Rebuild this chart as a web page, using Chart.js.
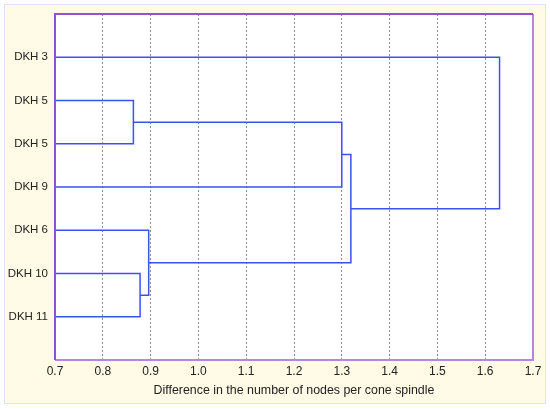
<!DOCTYPE html>
<html>
<head>
<meta charset="utf-8">
<script src="https://cdn.jsdelivr.net/npm/chart.js@4/dist/chart.umd.min.js"></script>
<style>
  body { margin: 0; background: #fff; }
  #wrap { width: 550px; height: 409px; }
</style>
</head>
<body>
<div id="wrap"><canvas id="dendro" width="550" height="409"></canvas></div>
<script>
// leaves, top to bottom
const leaves = ['DKH 3', 'DKH 5', 'DKH 5', 'DKH 9', 'DKH 6', 'DKH 10', 'DKH 11'];
// linkage: node ids 0..6 are leaves, 7.. are the merged clusters in order
const mergeA = [1, 7, 5, 4, 8, 0];
const mergeB = [2, 3, 6, 9, 10, 11];
const mergeHeight = [0.864, 1.300, 0.878, 0.896, 1.319, 1.630];
const xTicks = [0.7, 0.8, 0.9, 1.0, 1.1, 1.2, 1.3, 1.4, 1.5, 1.6, 1.7];

const xMin = 0.7, xMax = 1.7;

// position of every node (x = height, y = row)
let nodeX = leaves.map(() => xMin);
let nodeY = leaves.map((l, i) => i + 1);
let datasets = [];
for (let i = 0; i < mergeHeight.length; i++) {
    let a = mergeA[i], b = mergeB[i], h = mergeHeight[i];
    datasets.push({
        data: [
            {x: nodeX[a], y: nodeY[a]},
            {x: h, y: nodeY[a]},
            {x: h, y: nodeY[b]},
            {x: nodeX[b], y: nodeY[b]}
        ],
        showLine: true,
        borderColor: '#3e50f0',
        borderWidth: 1.5,
        pointRadius: 0,
        fill: false
    });
    nodeX.push(h);
    nodeY.push((nodeY[a] + nodeY[b]) / 2);
}

// cream frame + plot border
const frame = {
    id: 'frame',
    beforeDraw(chart) {
        const c = chart.ctx, a = chart.chartArea;
        c.save();
        c.fillStyle = '#fffbe6';
        c.fillRect(5, 5, 540, 398);
        c.strokeStyle = '#e2e3ef';
        c.lineWidth = 1;
        c.strokeRect(4.5, 4.5, 541, 399);
        c.fillStyle = '#ffffff';
        c.fillRect(a.left, a.top, a.right - a.left, a.bottom - a.top);
        c.restore();
    },
    afterDraw(chart) {
        const c = chart.ctx, a = chart.chartArea;
        c.save();
        c.lineWidth = 2;
        c.strokeStyle = '#b585e0';
        c.beginPath();
        c.moveTo(a.left, a.bottom);
        c.lineTo(a.right, a.bottom);
        c.lineTo(a.right, a.top);
        c.stroke();
        c.strokeStyle = '#9050d8';
        c.beginPath();
        c.moveTo(a.left, a.bottom);
        c.lineTo(a.left, a.top);
        c.lineTo(a.right, a.top);
        c.stroke();
        c.restore();
    }
};

new Chart(document.getElementById('dendro').getContext('2d'), {
    type: 'scatter',
    data: { datasets: datasets },
    options: {
        responsive: false,
        animation: false,
        layout: { padding: { left: 5, top: 14, right: 17, bottom: 0 } },
        plugins: {
            legend: { display: false },
            tooltip: { enabled: false }
        },
        scales: {
            x: {
                type: 'linear',
                min: xMin,
                max: xMax,
                afterBuildTicks: function(scale) {
                    scale.ticks = xTicks.map(v => ({ value: v }));
                },
                afterFit: function(scale) { scale.height = 49; },
                border: { display: false, dash: [2, 2] },
                grid: {
                    drawTicks: false,
                    color: function(ctx) {
                        let v = ctx.tick ? ctx.tick.value : 0;
                        return (v <= xMin + 0.001 || v >= xMax - 0.001) ? 'rgba(0,0,0,0)' : '#8c8c8c';
                    },
                    lineWidth: 1
                },
                ticks: {
                    padding: 4,
                    color: '#222',
                    font: { family: 'Liberation Sans, Arial', size: 12 },
                    callback: function(v) { return v.toFixed(1); }
                },
                title: {
                    display: true,
                    text: 'Difference in the number of nodes per cone spindle',
                    color: '#222',
                    font: { family: 'Liberation Sans, Arial', size: 12.4 },
                    padding: { top: 4, bottom: 11 }
                }
            },
            y: {
                type: 'linear',
                min: 0,
                max: leaves.length + 1,
                reverse: true,
                afterBuildTicks: function(scale) {
                    scale.ticks = leaves.map((l, i) => ({ value: i + 1 }));
                },
                afterFit: function(scale) { scale.width = 50; },
                border: { display: false },
                grid: { display: false, drawTicks: false },
                ticks: {
                    padding: 7,
                    color: '#222',
                    font: { family: 'Liberation Sans, Arial', size: 11.5 },
                    callback: function(v) { return leaves[v - 1]; }
                }
            }
        }
    },
    plugins: [frame]
});
</script>
</body>
</html>
